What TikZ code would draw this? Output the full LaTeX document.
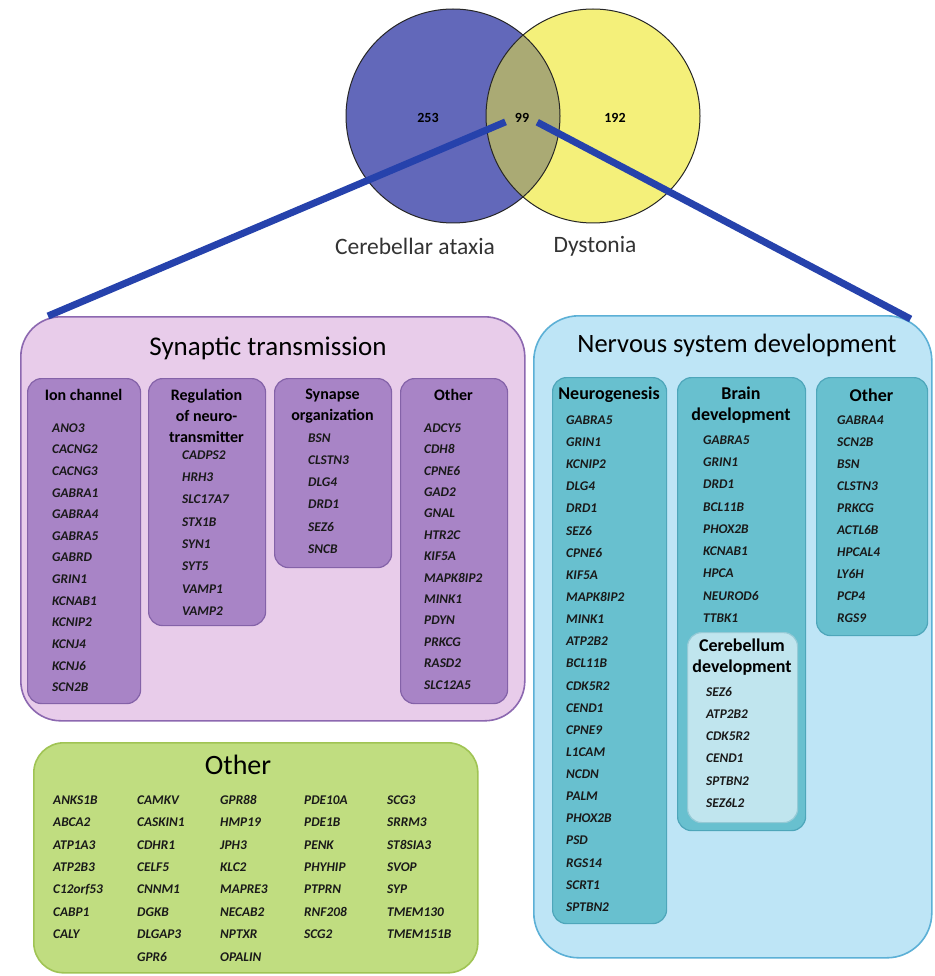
\documentclass[tikz,border=0pt]{standalone}
\usepackage{fontspec}
\setmainfont{Carlito}
\usetikzlibrary{positioning}
\definecolor{vblue}{RGB}{98,104,186}
\definecolor{vyellow}{RGB}{244,240,122}
\definecolor{volive}{RGB}{170,170,116}
\definecolor{linkblue}{RGB}{38,66,172}
\definecolor{synfill}{RGB}{232,204,234}
\definecolor{syndraw}{RGB}{140,104,176}
\definecolor{synsub}{RGB}{168,132,198}
\definecolor{synsubdraw}{RGB}{132,98,168}
\definecolor{nerfill}{RGB}{190,229,246}
\definecolor{nerdraw}{RGB}{92,176,214}
\definecolor{nersub}{RGB}{104,192,207}
\definecolor{nersubdraw}{RGB}{78,166,186}
\definecolor{cerfill}{RGB}{192,229,238}
\definecolor{othfill}{RGB}{192,221,128}
\definecolor{othdraw}{RGB}{160,196,84}
\begin{document}
\begin{tikzpicture}[x=1pt,y=-1pt,line join=round]
		\tikzset{gene/.style={anchor=west,inner sep=0pt,text=black!90,font=\fontsize{13.3}{13}\selectfont\bfseries\itshape},
			head/.style={inner sep=0pt,align=center,font=\fontsize{16}{21}\selectfont\bfseries},
			nhead/.style={head,font=\fontsize{18}{21}\selectfont\bfseries},
			title/.style={inner sep=0pt,font=\fontsize{27}{27}\selectfont},
			num/.style={inner sep=0pt,font=\fontsize{14}{14}\selectfont\bfseries},
			setlabel/.style={inner sep=0pt,text=black!80,font=\fontsize{23.5}{24}\selectfont},
			bigbox/.style={anchor=north west,line width=1.6pt,rounded corners=40pt},
			subbox/.style={anchor=north west,line width=1.2pt,rounded corners=14pt},
			link/.style={linkblue,line width=7pt}}
		\useasboundingbox[fill=white] (0,0) rectangle (934,976);
		% Venn diagram
		\fill[vblue] (453,116) circle [radius=107];
		\fill[vyellow] (593,116) circle [radius=107];
		\begin{scope}
		\clip (453,116) circle [radius=107];
		\fill[volive] (593,116) circle [radius=107];
		\end{scope}
		\draw[black!85,line width=1pt] (453,116) circle [radius=107] (593,116) circle [radius=107];
		\node[num] (n253) at (428,118) {253};
		\node[num] (n99) at (522,118) {99};
		\node[num] (n192) at (615,118) {192};
		\node[setlabel] (ataxia) at (415,246) {Cerebellar ataxia};
		\node[setlabel] (dystonia) at (595,246) {Dystonia};
		% main boxes
		\node[bigbox,fill=synfill,draw=syndraw,minimum width=504,minimum height=404] (syn) at (20,316) {};
		\node[bigbox,fill=nerfill,draw=nerdraw,rounded corners=45pt,minimum width=398,minimum height=642] (nerv) at (533,315) {};
		\node[bigbox,fill=othfill,draw=othdraw,rounded corners=30pt,minimum width=444,minimum height=230] (oth) at (33,742) {};
		\coordinate (lend) at ([xshift=28pt]syn.north west);
		\coordinate (rend) at ([shift={(-22pt,-4pt)}]nerv.north east);
		\draw[link,shorten <=10pt] (n99.west) -- (lend);
		\draw[link,shorten <=9pt] (n99.east) -- (rend);
		\node[title] (syntitle) at (268,348) {Synaptic transmission};
		\node[title,font=\fontsize{26.5}{27}\selectfont] (nertitle) at (737,345) {Nervous system development};
		\node[title,font=\fontsize{28}{28}\selectfont] (othtitle) at (238,765) {Other};
		% synaptic transmission
		\node[subbox,fill=synsub,draw=synsubdraw,minimum width=113,minimum height=325] (ion) at (27,378) {};
		\node[subbox,fill=synsub,draw=synsubdraw,minimum width=117,minimum height=247] (reg) at (148,378) {};
		\node[subbox,fill=synsub,draw=synsubdraw,minimum width=117,minimum height=189] (sorg) at (274,378) {};
		\node[subbox,fill=synsub,draw=synsubdraw,minimum width=107,minimum height=325] (sot) at (400,378) {};
		\node[head] (ionh) at (83.5,395) {Ion channel};
		\node[head] (regh) at (206.5,416) {Regulation\\of neuro-\\transmitter};
		\node[head] (sorgh) at (332.5,406.5) {Synapse\\organization};
		\node[head] (soth) at (453.5,395) {Other};
		\foreach \g [count=\i from 0] in {ANO3,CACNG2,CACNG3,GABRA1,GABRA4,GABRA5,GABRD,GRIN1,KCNAB1,KCNIP2,KCNJ4,KCNJ6,SCN2B}
		\node[gene] (ion-\i) at (52,{428+21.6*\i}) {\g};
		\foreach \g [count=\i from 0] in {CADPS2,HRH3,SLC17A7,STX1B,SYN1,SYT5,VAMP1,VAMP2}
		\node[gene] (reg-\i) at (182,{455+22.3*\i}) {\g};
		\foreach \g [count=\i from 0] in {BSN,CLSTN3,DLG4,DRD1,SEZ6,SNCB}
		\node[gene] (sorg-\i) at (308,{438+22.2*\i}) {\g};
		\foreach \g [count=\i from 0] in {ADCY5,CDH8,CPNE6,GAD2,GNAL,HTR2C,KIF5A,MAPK8IP2,MINK1,PDYN,PRKCG,RASD2,SLC12A5}
		\node[gene] (sot-\i) at (424,{428+21.4*\i}) {\g};
		% nervous system development
		\node[subbox,fill=nersub,draw=nersubdraw,minimum width=114,minimum height=546] (neu) at (552,377) {};
		\node[subbox,fill=nersub,draw=nersubdraw,minimum width=128,minimum height=453] (brain) at (677,377) {};
		\node[subbox,fill=nersub,draw=nersubdraw,minimum width=111,minimum height=258] (not) at (816,377) {};
		\node[subbox,fill=cerfill,draw=nersubdraw!60,minimum width=110,minimum height=190] (cer) at (687,632) {};
		\node[nhead] (neuh) at (609,395) {Neurogenesis};
		\node[nhead] (brainh) at (741,405.5) {Brain\\development};
		\node[nhead] (noth) at (871.5,395) {Other};
		\node[nhead] (cerh) at (742,657.5) {Cerebellum\\development};
		\foreach \g [count=\i from 0] in {GABRA5,GRIN1,KCNIP2,DLG4,DRD1,SEZ6,CPNE6,KIF5A,MAPK8IP2,MINK1,ATP2B2,BCL11B,CDK5R2,CEND1,CPNE9,L1CAM,NCDN,PALM,PHOX2B,PSD,RGS14,SCRT1,SPTBN2}
		\node[gene] (neu-\i) at (566,{420+22.14*\i}) {\g};
		\foreach \g [count=\i from 0] in {GABRA5,GRIN1,DRD1,BCL11B,PHOX2B,KCNAB1,HPCA,NEUROD6,TTBK1}
		\node[gene] (brain-\i) at (703,{440+22.25*\i}) {\g};
		\foreach \g [count=\i from 0] in {SEZ6,ATP2B2,CDK5R2,CEND1,SPTBN2,SEZ6L2}
		\node[gene] (cer-\i) at (706,{692+22.2*\i}) {\g};
		\foreach \g [count=\i from 0] in {GABRA4,SCN2B,BSN,CLSTN3,PRKCG,ACTL6B,HPCAL4,LY6H,PCP4,RGS9}
		\node[gene] (not-\i) at (837,{420+22*\i}) {\g};
		% other
		\foreach \col/\x in {{ANKS1B,ABCA2,ATP1A3,ATP2B3,C12orf53,CABP1,CALY}/53,
			{CAMKV,CASKIN1,CDHR1,CELF5,CNNM1,DGKB,DLGAP3,GPR6}/137,
			{GPR88,HMP19,JPH3,KLC2,MAPRE3,NECAB2,NPTXR,OPALIN}/220,
			{PDE10A,PDE1B,PENK,PHYHIP,PTPRN,RNF208,SCG2}/304,
			{SCG3,SRRM3,ST8SIA3,SVOP,SYP,TMEM130,TMEM151B}/387}
		\foreach \g [count=\i from 0] in \col
		\node[gene] (oth-\x-\i) at (\x,{800+22.4*\i}) {\g};
\end{tikzpicture}
\end{document}
